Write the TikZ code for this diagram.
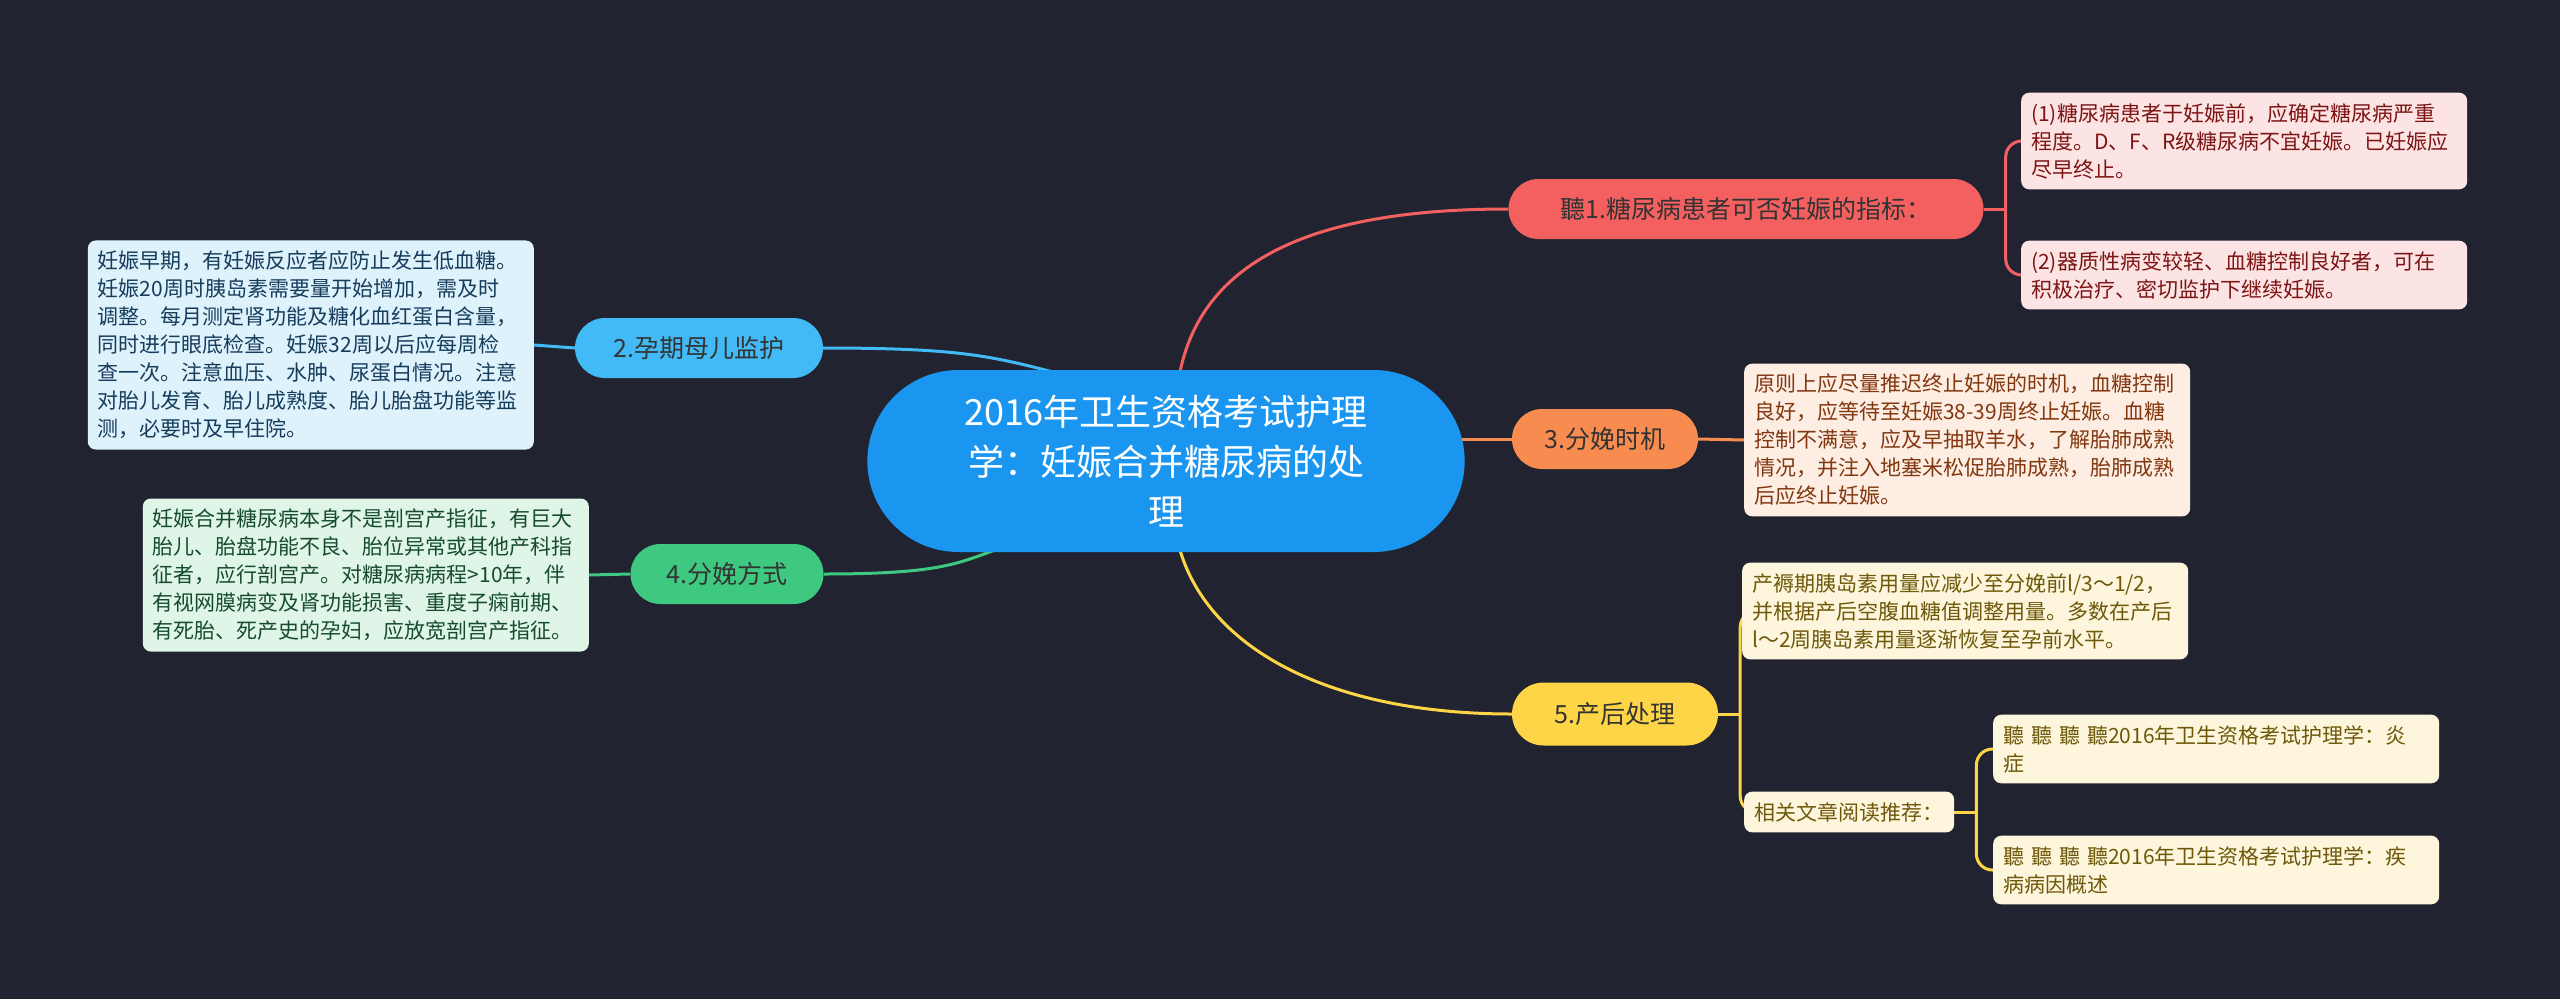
\documentclass[tikz,border=0pt]{standalone}
\usepackage{fontspec}
\setmainfont{Noto Sans CJK SC}
\usetikzlibrary{shapes.misc,backgrounds,calc}

\definecolor{bgNavy}{RGB}{33,36,48}
\definecolor{mainBlue}{RGB}{26,150,240}
\definecolor{redNode}{RGB}{244,96,96}
\definecolor{redLeaf}{RGB}{253,228,228}
\definecolor{redText}{RGB}{125,20,20}
\definecolor{blueNode}{RGB}{66,186,246}
\definecolor{blueLeaf}{RGB}{222,242,252}
\definecolor{blueText}{RGB}{22,60,92}
\definecolor{greenNode}{RGB}{62,200,128}
\definecolor{greenLeaf}{RGB}{222,245,232}
\definecolor{greenText}{RGB}{22,75,45}
\definecolor{orangeNode}{RGB}{248,140,80}
\definecolor{orangeLeaf}{RGB}{253,237,226}
\definecolor{orangeText}{RGB}{130,55,15}
\definecolor{yellowNode}{RGB}{253,213,70}
\definecolor{yellowLeaf}{RGB}{253,246,220}
\definecolor{yellowText}{RGB}{110,88,10}

\begin{document}
\begin{tikzpicture}[x=1pt, y=-1pt,
    topic/.style={rounded rectangle, fill=#1, text=black!80,
        font=\fontsize{25}{30}\selectfont, minimum height=60pt, inner sep=0pt},
    note/.style 2 args={rectangle, rounded corners=8pt, fill=#1, text=#2,
        text width=426pt, align=left, inner xsep=10pt, inner ysep=10.5pt,
        font=\fontsize{21}{28}\selectfont},
    link/.style={draw=#1, line width=3pt}]
% Parameters
\def\forkgap{22}
\def\bend{16pt}

\useasboundingbox (0,0) rectangle (2560,999);

% Central topic
\node[rounded rectangle, fill=mainBlue, text=white, align=center,
      minimum width=604pt, minimum height=182pt,
      font=\fontsize{36}{50}\selectfont] (main) at (1166,461)
    {2016年卫生资格考试护理\\学：妊娠合并糖尿病的处\\理};

% Main branches
\node[topic=redNode, minimum width=475pt] (indicate) at (1746,209) {聽1.糖尿病患者可否妊娠的指标：};
\node[topic=blueNode, minimum width=248pt] (monitor) at (699,348) {2.孕期母儿监护};
\node[topic=orangeNode, minimum width=186pt] (timing) at (1605,439) {3.分娩时机};
\node[topic=greenNode, minimum width=193pt] (delivery) at (727,574) {4.分娩方式};
\node[topic=yellowNode, minimum width=206pt, minimum height=63pt] (postpartum) at (1615,714) {5.产后处理};

% Notes of branch 1
\node[note={redLeaf}{redText}, anchor=west] (indicateA) at (2021,141) {(1)糖尿病患者于妊娠前，应确定糖尿病严重\\程度。D、F、R级糖尿病不宜妊娠。已妊娠应\\尽早终止。};
\node[note={redLeaf}{redText}, anchor=west] (indicateB) at (2021,275) {(2)器质性病变较轻、血糖控制良好者，可在\\积极治疗、密切监护下继续妊娠。};

% Note of branch 2
\node[note={blueLeaf}{blueText}, anchor=east] (monitorText) at (534,345) {妊娠早期，有妊娠反应者应防止发生低血糖。\\妊娠20周时胰岛素需要量开始增加，需及时\\调整。每月测定肾功能及糖化血红蛋白含量，\\同时进行眼底检查。妊娠32周以后应每周检\\查一次。注意血压、水肿、尿蛋白情况。注意\\对胎儿发育、胎儿成熟度、胎儿胎盘功能等监\\测，必要时及早住院。};

% Note of branch 3
\node[note={orangeLeaf}{orangeText}, anchor=west] (timingText) at (1744,440) {原则上应尽量推迟终止妊娠的时机，血糖控制\\良好，应等待至妊娠38-39周终止妊娠。血糖\\控制不满意，应及早抽取羊水，了解胎肺成熟\\情况，并注入地塞米松促胎肺成熟，胎肺成熟\\后应终止妊娠。};

% Note of branch 4
\node[note={greenLeaf}{greenText}, anchor=east] (deliveryText) at (589,575) {妊娠合并糖尿病本身不是剖宫产指征，有巨大\\胎儿、胎盘功能不良、胎位异常或其他产科指\\征者，应行剖宫产。对糖尿病病程>10年，伴\\有视网膜病变及肾功能损害、重度子痫前期、\\有死胎、死产史的孕妇，应放宽剖宫产指征。};

% Notes of branch 5
\node[note={yellowLeaf}{yellowText}, anchor=west] (postText) at (1742,611) {产褥期胰岛素用量应减少至分娩前l/3～1/2，\\并根据产后空腹血糖值调整用量。多数在产后\\l～2周胰岛素用量逐渐恢复至孕前水平。};
\node[note={yellowLeaf}{yellowText}, anchor=west, text width=190pt] (related) at (1744,812) {相关文章阅读推荐：};
\node[note={yellowLeaf}{yellowText}, anchor=west] (relatedA) at (1993,749) {聽 聽 聽 聽2016年卫生资格考试护理学：炎\\症};
\node[note={yellowLeaf}{yellowText}, anchor=west] (relatedB) at (1993,870) {聽 聽 聽 聽2016年卫生资格考试护理学：疾\\病病因概述};

\begin{pgfonlayer}{background}
% Draw dark backdrop
\fill[bgNavy] (0,0) rectangle (2560,999);

% Curves from the central topic
\draw[link=redNode] ($(main.north)+(14,2)$) .. controls +(25,-120) and +(-180,0) .. (indicate.west);
\draw[link=blueNode] (monitor.east) .. controls +(150,0) and +(-80,-20) .. ($(main.north)+(-90,8)$);
\draw[link=orangeNode] (timing.west) -- (timing.west -| main.center);
\draw[link=greenNode] (delivery.east) .. controls +(150,0) and +(-80,20) .. ($(main.south)+(-126,-16)$);
\draw[link=yellowNode] ($(main.south)+(14,-2)$) .. controls +(30,100) and +(-180,0) .. (postpartum.west);

% Straight links to notes
\draw[link=blueNode] (monitor.west) -- (monitorText.east);
\draw[link=greenNode] (delivery.west) -- (deliveryText.east);
\draw[link=orangeNode] (timing.east) -- (timingText.west);

% Forks
\draw[link=redNode] (indicate.east) -- ++(\forkgap,0) coordinate (redFork);
\foreach \leaf in {indicateA,indicateB}
    \draw[link=redNode, rounded corners=\bend] (redFork) |- (\leaf.west);

\draw[link=yellowNode] (postpartum.east) -- ++(\forkgap,0) coordinate (yellowFork);
\foreach \leaf in {postText,related}
    \draw[link=yellowNode, rounded corners=\bend] (yellowFork) |- (\leaf.west);

\draw[link=yellowNode] (related.east) -- ++(\forkgap,0) coordinate (relatedFork);
\foreach \leaf in {relatedA,relatedB}
    \draw[link=yellowNode, rounded corners=\bend] (relatedFork) |- (\leaf.west);
\end{pgfonlayer}
\end{tikzpicture}
\end{document}
